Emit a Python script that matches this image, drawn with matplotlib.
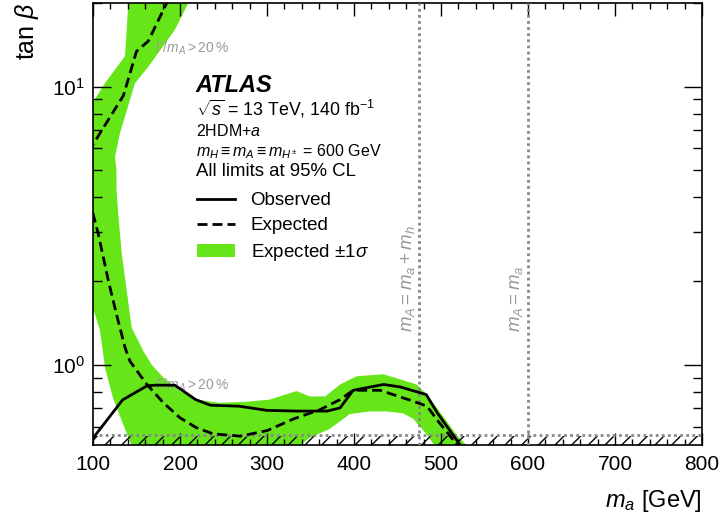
import matplotlib
matplotlib.use('Agg')
import matplotlib.pyplot as plt
from matplotlib.lines import Line2D
from matplotlib.patches import Patch

plt.rcParams['font.family'] = 'Liberation Sans'
plt.rcParams['mathtext.fontset'] = 'custom'
plt.rcParams['mathtext.rm'] = 'Liberation Sans'
plt.rcParams['mathtext.it'] = 'Liberation Sans:italic'
plt.rcParams['mathtext.bf'] = 'Liberation Sans:bold'
plt.rcParams['hatch.linewidth'] = 1.0

# observed limit
obs_m = [100, 134, 162, 171, 194, 218, 235, 268, 300, 334, 369, 384, 399, 434, 453, 483, 496, 525, 528]
obs_t = [0.545, 0.748, 0.84, 0.845, 0.845, 0.75, 0.716, 0.71, 0.686, 0.682, 0.682, 0.70, 0.81, 0.85,
         0.833, 0.782, 0.67, 0.50, 0.48]

# expected limit (leaves the plot on the left and comes back)
exp_m = [190, 188, 163.6, 150, 135, 100, 90, 85, 90, 100, 106, 117.6, 127, 136.8, 142.5, 161.7, 181, 200,
         219, 238, 269, 300, 331, 361, 384, 399, 430, 468, 484, 495, 522, 526]
exp_t = [23, 21, 14.6, 13.4, 9.3, 6.2, 5.5, 4.5, 4.0, 3.5, 2.96, 2.01, 1.52, 1.155, 1.03, 0.852, 0.73, 0.645,
         0.594, 0.565, 0.554, 0.58, 0.64, 0.69, 0.75, 0.81, 0.81, 0.74, 0.71, 0.637, 0.50, 0.48]

# expected +-1 sigma band outline
band_m = [141, 140.6, 136.8, 113.8, 100, 90, 90, 100, 108, 114, 123, 133, 142.5, 148, 330,
          349, 372, 395, 418, 437, 456, 468, 484, 495, 500, 540,
          533, 518, 503, 484, 472, 434, 403, 384, 367, 349, 334, 303, 277, 246, 219, 200, 181,
          167.5, 158, 144.5, 133, 129, 127, 127, 125.3, 131, 148.3, 163.6, 194, 209.6, 212]
band_t = [22, 20, 12.9, 10.3, 8.8, 8.0, 1.8, 1.6, 1.33, 0.97, 0.76, 0.63, 0.53, 0.49, 0.49,
          0.547, 0.588, 0.665, 0.68, 0.68, 0.67, 0.64, 0.56, 0.50, 0.48, 0.48,
          0.50, 0.56, 0.65, 0.78, 0.85, 0.925, 0.91, 0.85, 0.77, 0.77, 0.805, 0.75, 0.737, 0.73, 0.75, 0.805, 0.90,
          1.0, 1.12, 1.36, 2.52, 3.5, 4.25, 5.0, 5.6, 6.8, 10.3, 11.8, 16.0, 20, 22]

ma_line1 = 475   # m_A = m_a + m_h
ma_line2 = 600   # m_A = m_a
tb_floor = 0.56

green = '#66e619'
grey = '#888888'

fig = plt.figure(figsize=(7.21, 5.21), dpi=100)
ax = fig.add_axes([93 / 721, 1 - 445 / 521, 609 / 721, 442 / 521])

ax.fill(band_m, band_t, color=green, lw=0, zorder=1)
ax.fill_between([100, 800], 0.4, tb_floor - 0.005, facecolor='none', edgecolor='black', hatch='//', lw=0, zorder=3)
ax.axhline(tb_floor, color=grey, lw=2, ls=(0, (1, 1.2)), zorder=4)
ax.axvline(ma_line1, color=grey, lw=2, ls=(0, (1, 1.2)), zorder=4)
ax.axvline(ma_line2, color=grey, lw=2, ls=(0, (1, 1.2)), zorder=4)

ax.text(171, 13.8, r'$\Gamma/m_A > 20\,\%$', color='#999999', fontsize=10, va='center', zorder=2)
ax.text(171, 0.847, r'$\Gamma/m_A > 20\,\%$', color='#999999', fontsize=10, va='center', zorder=2)
ax.text(462, 1.31, r'$m_A = m_a + m_h$', color='#999999', fontsize=13.5, rotation=90, ha='center', va='bottom')
ax.text(587, 1.31, r'$m_A = m_a$', color='#999999', fontsize=13.5, rotation=90, ha='center', va='bottom')

ax.plot(exp_m, exp_t, color='black', lw=2, dashes=(3.6, 1.8), zorder=5)
ax.plot(obs_m, obs_t, color='black', lw=2, zorder=6)

tx = 0.169
ax.text(tx, 0.813, 'ATLAS', transform=ax.transAxes, fontsize=17, fontweight='bold', style='italic', va='center')
ax.text(tx, 0.760, r'$\sqrt{s}$ = 13 TeV, 140 fb$^{-1}$', transform=ax.transAxes, fontsize=12.8, va='center')
ax.text(tx, 0.710, r'2HDM+$a$', transform=ax.transAxes, fontsize=11.5, va='center')
ax.text(tx, 0.664, r'$m_H \equiv m_A \equiv m_{H^\pm}$ = 600 GeV', transform=ax.transAxes, fontsize=11.5, va='center')
ax.text(tx, 0.619, 'All limits at 95% CL', transform=ax.transAxes, fontsize=13.4, va='center')

handles = [Line2D([], [], color='black', lw=2),
           Line2D([], [], color='black', lw=2, dashes=(3.6, 1.8)),
           Patch(facecolor=green, lw=0)]
ax.legend(handles, ['Observed', 'Expected', r'Expected $\pm1\sigma$'], loc='upper left',
          bbox_to_anchor=(0.171, 0.572), frameon=False, fontsize=13.5, handlelength=2.0,
          handletextpad=0.85, labelspacing=0.42, borderpad=0, borderaxespad=0)

ax.set_yscale('log')
ax.set_xlim(100, 800)
ax.set_ylim(0.515, 20)
ax.set_xticks(range(100, 801, 100))
ax.set_xticks(range(100, 801, 20), minor=True)

ax.tick_params(which='both', direction='in', top=True, right=True, labelsize=15, width=1)
ax.tick_params(axis='x', which='major', length=9, pad=7)
ax.tick_params(axis='x', which='minor', length=4.5)
ax.tick_params(axis='y', which='major', length=13, pad=6)
ax.tick_params(axis='y', which='minor', length=6.5)
for s in ax.spines.values():
    s.set_linewidth(1.2)

ax.set_xlabel(r'$m_a$ [GeV]', fontsize=17, loc='right', labelpad=10)
ax.set_ylabel(r'$\tan\,\beta$', fontsize=18, loc='top', labelpad=8)

fig.savefig('out.png', dpi=100)
